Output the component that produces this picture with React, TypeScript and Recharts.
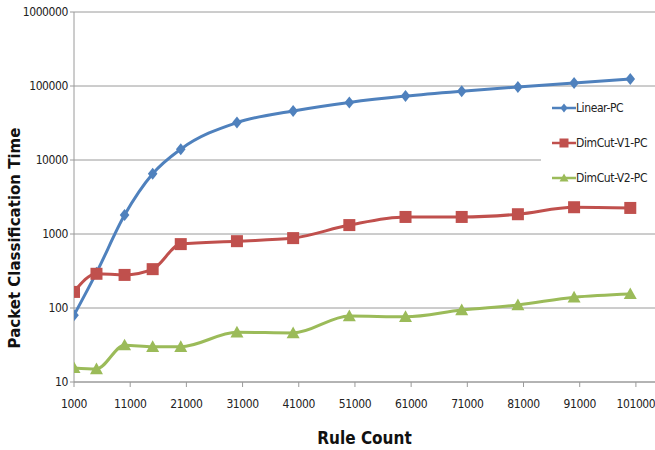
import React from 'react';
import {
  LineChart, Line, XAxis, YAxis, CartesianGrid, Label,
} from 'recharts';

const ruleCounts = [1000, 5000, 10000, 15000, 20000, 30000, 40000, 50000, 60000, 70000, 80000, 90000, 100000];
const linearPC = [80, 300, 1800, 6500, 14000, 32000, 46000, 60000, 73000, 85000, 97000, 110000, 124000];
const dimCutV1 = [165, 290, 280, 335, 730, 800, 880, 1320, 1700, 1700, 1850, 2300, 2250];
const dimCutV2 = [15.5, 15, 31.5, 30, 30, 47, 46, 78, 76, 94, 110, 140, 155];

const xTicks = [1000, 11000, 21000, 31000, 41000, 51000, 61000, 71000, 81000, 91000, 101000];
const yTicks = [10, 100, 1000, 10000, 100000, 1000000];

const BLUE = '#4F81BD';
const RED = '#C0504D';
const GREEN = '#9BBB59';
const FONT = '"Liberation Sans Narrow", "Arial Narrow", "DejaVu Sans Condensed", sans-serif';
const tickStyle: any = { fontFamily: FONT, fontStretch: 'condensed', fontSize: 12, letterSpacing: -0.4, fill: '#222' };

const data = ruleCounts.map((x, i) => ({
  x,
  linear: linearPC[i],
  v1: dimCutV1[i],
  v2: dimCutV2[i],
}));

const Diamond = ({ cx, cy, color, r = 6 }: any) => (
  <path d={`M${cx},${cy - r} L${cx + r * 0.8},${cy} L${cx},${cy + r} L${cx - r * 0.8},${cy} Z`} fill={color} />
);
const Square = ({ cx, cy, color, r = 6 }: any) => (
  <rect x={cx - r} y={cy - r} width={r * 2} height={r * 2} fill={color} />
);
const Triangle = ({ cx, cy, color, r = 6.5 }: any) => (
  <path d={`M${cx},${cy - r} L${cx + r},${cy + r * 0.8} L${cx - r},${cy + r * 0.8} Z`} fill={color} />
);

const legendItems = [
  { name: 'Linear-PC', color: BLUE, Marker: Diamond },
  { name: 'DimCut-V1-PC', color: RED, Marker: Square },
  { name: 'DimCut-V2-PC', color: GREEN, Marker: Triangle },
];

// drawn over the plot, like the Excel legend box, so it doesn't shrink the plot area
const LegendBox = () => (
  <div style={{ position: 'absolute', left: 541, top: 90, width: 114, background: '#fff', paddingLeft: 11, boxSizing: 'border-box' }}>
    {legendItems.map(({ name, color, Marker }) => (
      <div key={name} style={{ display: 'flex', alignItems: 'center', height: 35 }}>
        <svg width={24} height={14} style={{ flex: 'none' }}>
          <line x1={0} y1={7} x2={24} y2={7} stroke={color} strokeWidth={2.5} />
          <Marker cx={12} cy={7} color={color} r={4.5} />
        </svg>
        <span style={{ fontFamily: FONT, fontStretch: 'condensed', fontSize: 12, letterSpacing: -0.4, color: '#222', whiteSpace: 'nowrap' }}>{name}</span>
      </div>
    ))}
  </div>
);

const YTitle = () => (
  <text transform="translate(20,238) rotate(-90)" textAnchor="middle"
    style={{ fontFamily: '"DejaVu Sans", Verdana, sans-serif', fontSize: 15, fontWeight: 'bold', fill: '#111' }}>
    Packet Classification Time
  </text>
);

export default function App() {
  return (
    <div style={{ position: 'absolute', left: 0, top: 0, width: 655, height: 450, background: '#fff' }}>
      <LineChart width={655} height={450} data={data} margin={{ top: 12, right: 0, bottom: 0, left: 0 }}>
        <CartesianGrid vertical={false} stroke="#9a9a9a" />
        <XAxis
          dataKey="x"
          type="number"
          domain={[1000, 104400]}
          ticks={xTicks}
          allowDataOverflow
          height={68}
          stroke="#9a9a9a"
          tickSize={5}
          tick={tickStyle}
          tickMargin={12}
        >
          <Label value="Rule Count" position="insideBottom" offset={6}
            style={{ fontFamily: FONT, fontStretch: 'condensed', fontSize: 17, fontWeight: 'bold', fill: '#111' } as any} />
        </XAxis>
        <YAxis
          scale="log"
          domain={[10, 1000000]}
          ticks={yTicks}
          width={74}
          stroke="#9a9a9a"
          tickSize={4}
          tick={tickStyle}
          allowDataOverflow
        >
          <Label content={<YTitle />} />
        </YAxis>
        <Line type="monotone" dataKey="linear" name="Linear-PC" stroke={BLUE} strokeWidth={3}
          isAnimationActive={false}
          dot={(p: any) => <Diamond key={`d-${p.index}`} cx={p.cx} cy={p.cy} color={BLUE} />} />
        <Line type="monotone" dataKey="v1" name="DimCut-V1-PC" stroke={RED} strokeWidth={3}
          isAnimationActive={false}
          dot={(p: any) => <Square key={`s-${p.index}`} cx={p.cx} cy={p.cy} color={RED} />} />
        <Line type="monotone" dataKey="v2" name="DimCut-V2-PC" stroke={GREEN} strokeWidth={3}
          isAnimationActive={false}
          dot={(p: any) => <Triangle key={`t-${p.index}`} cx={p.cx} cy={p.cy} color={GREEN} />} />
      </LineChart>
      <LegendBox />
    </div>
  );
}
